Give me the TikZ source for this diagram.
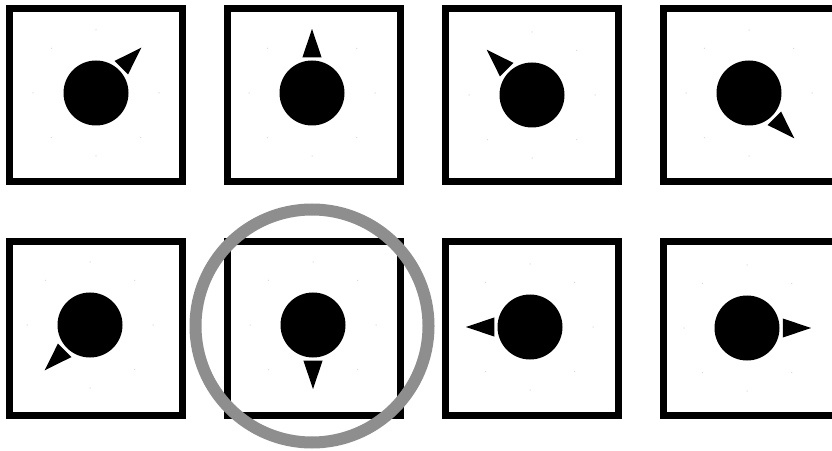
\documentclass[tikz,border=0pt]{standalone}
\usetikzlibrary{calc}
\definecolor{ringc}{HTML}{8E8E8E}
\definecolor{faint}{HTML}{DDDDDD}
\tikzset{
  panel/.style={draw=black, line width=7pt, minimum size=173pt, inner sep=0pt},
  ball/.style={circle, fill=black, inner sep=0pt, minimum size=65pt},
  dot/.style={circle, fill=faint, inner sep=0pt, minimum size=1.5pt},
  ring/.style={draw=ringc, line width=12pt},
}
\newcommand{\pointer}[2]{%
  \fill ($(#1)+(#2:64)$) -- ($(#1)+(#2+15:37)$) -- ($(#1)+(#2-15:37)$) -- cycle;}
\newcommand{\ticks}[1]{%
  \foreach \t in {0,45,...,315} \node[dot] (#1-\t) at ($(#1)+(\t:63)$) {};}

\begin{document}
\begin{tikzpicture}[x=1pt,y=1pt]
  \useasboundingbox (0,0) rectangle (832,450);
  \begin{scope}
    \clip (0,0) rectangle (832,450);
    \foreach \n/\px/\py/\bx/\by/\a in {
        a/95.5/355/96/357/45, b/313.5/355/312/357/90,
        c/531.5/355/532/355/135, d/749.5/355/749/357/-45,
        e/95.5/121.5/90/125/225, f/313.5/121.5/313/125/270,
        g/531.5/121.5/530/123/180, h/749.5/121.5/747/122/0}{
      \node[panel] (p\n) at (\px,\py) {};
      \node[ball] (b\n) at (\bx,\by) {};
      \ticks{b\n}
      \pointer{b\n}{\a}
    }
  \end{scope}
  % highlighted choice
  \node[circle, inner sep=0pt, minimum size=233pt] (pick) at (312,124) {};
  \draw[ring] (pick.center) circle (116.5);
\end{tikzpicture}
\end{document}
